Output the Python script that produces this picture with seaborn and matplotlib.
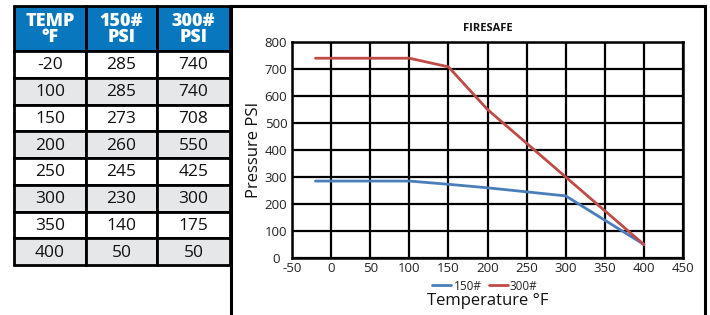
import matplotlib
matplotlib.use("Agg")
import matplotlib.pyplot as plt
from matplotlib.patches import Rectangle
from matplotlib.lines import Line2D
import seaborn as sns
import pandas as pd

# ---- data ----
temps = [-20, 100, 150, 200, 250, 300, 350, 400]
psi_150 = [285, 285, 273, 260, 245, 230, 140, 50]
psi_300 = [740, 740, 708, 550, 425, 300, 175, 50]
series_names = ["150#", "300#"]
header_labels = ["TEMP\n°F", "150#\nPSI", "300#\nPSI"]
x_ticks = [-50, 0, 50, 100, 150, 200, 250, 300, 350, 400, 450]
y_ticks = [0, 100, 200, 300, 400, 500, 600, 700, 800]

sns.set_theme(style="white")
plt.rcParams['font.family'] = ['Open Sans', 'DejaVu Sans']
plt.rcParams['axes.unicode_minus'] = False

W, H = 710, 315
fig = plt.figure(figsize=(W / 100, H / 100), dpi=100)

# ---- overlay for table and frame (pixel coords) ----
ov = fig.add_axes([0, 0, 1, 1])
ov.set_xlim(0, W)
ov.set_ylim(H, 0)
ov.axis("off")

col_edges = [14, 86, 157, 230]
head_top, head_bot = 6, 51
row_h = (265 - 51) / 8
blue = "#0877BD"
gray = "#E6E7E8"

# header
for c in range(3):
    ov.add_patch(Rectangle((col_edges[c], head_top), col_edges[c + 1] - col_edges[c],
                           head_bot - head_top, facecolor=blue, edgecolor="black", lw=2, zorder=1))
    ov.text((col_edges[c] + col_edges[c + 1]) / 2, (head_top + head_bot) / 2 + 1, header_labels[c],
            ha="center", va="center", color="white", fontsize=13, fontweight="heavy",
            linespacing=0.92, zorder=3)
rows = list(zip(temps, psi_150, psi_300))
for r, vals in enumerate(rows):
    y0 = head_bot + r * row_h
    fc = "white" if r % 2 == 0 else gray
    for c in range(3):
        ov.add_patch(Rectangle((col_edges[c], y0), col_edges[c + 1] - col_edges[c], row_h,
                               facecolor=fc, edgecolor="black", lw=2, zorder=1))
        ov.text((col_edges[c] + col_edges[c + 1]) / 2, y0 + row_h / 2 + 1, str(vals[c]),
                ha="center", va="center", color="#111111", fontsize=12.5, zorder=3)

# chart frame
ov.plot([231, 231, 705, 705], [H + 2, 6, 6, H + 2], color="black", lw=2.2, solid_joinstyle="miter")

# ---- chart ----
ax = fig.add_axes([292 / W, 1 - 258 / H, (683 - 292) / W, (258 - 42) / H])
df = pd.DataFrame({
    "Temperature": temps * 2,
    "Pressure": psi_150 + psi_300,
    "Series": [series_names[0]] * len(temps) + [series_names[1]] * len(temps),
})
palette = {"150#": "#4A7EBB", "300#": "#BE4B48"}
sns.lineplot(data=df, x="Temperature", y="Pressure", hue="Series", palette=palette,
             ax=ax, lw=2, legend=False, zorder=3)
ax.set_xlim(-50, 450)
ax.set_ylim(0, 800)
ax.set_xticks(x_ticks)
ax.set_yticks(y_ticks)
ax.grid(True, color="black", lw=1.6)
ax.set_axisbelow(True)
for s in ax.spines.values():
    s.set_color("black")
    s.set_linewidth(1.8)
ax.tick_params(axis="both", length=0, labelsize=9.5, colors="#222222")
ax.tick_params(axis="y", pad=11.5)
ax.tick_params(axis="x", pad=3)
for lbl in ax.get_yticklabels():
    lbl.set_horizontalalignment("center")
ax.set_xlabel("Temperature °F", fontsize=12, color="#111111", labelpad=13)
ax.set_ylabel("Pressure PSI", fontsize=12, color="#111111", labelpad=2)
ax.set_title("FIRESAFE", fontsize=8, fontweight="bold", color="#111111", pad=8)

handles = [Line2D([0], [0], color=palette[n], lw=2) for n in series_names]
fig.legend(handles, series_names, loc="center", bbox_to_anchor=(485 / W, 1 - 286 / H),
           ncol=2, frameon=False, fontsize=8.5, handlelength=1.6, handletextpad=0.2,
           columnspacing=0.6, borderpad=0)

fig.savefig("out.png", dpi=100)
